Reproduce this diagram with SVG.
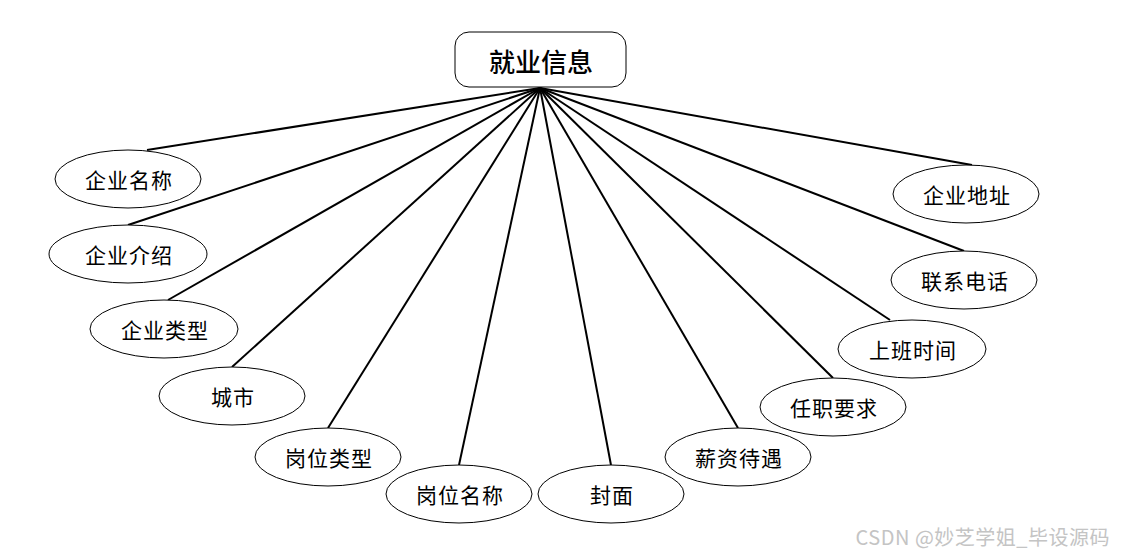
<svg xmlns="http://www.w3.org/2000/svg" width="1121" height="555" viewBox="0 0 1121 555">
<style>
.e{fill:#fff;stroke:#000;stroke-width:1}
.t{font-family:"Noto Sans CJK SC",sans-serif;font-size:21px;letter-spacing:1px;fill:#000;text-anchor:middle;dominant-baseline:central}
.c line{stroke:#000;stroke-width:2}
</style>
<rect width="1121" height="555" fill="#fff"/>
<g class="c" id="connectors">
<line x1="540" y1="88" x2="147" y2="150"/>
<line x1="540" y1="88" x2="128" y2="225"/>
<line x1="540" y1="88" x2="168" y2="300"/>
<line x1="540" y1="88" x2="232" y2="367"/>
<line x1="540" y1="88" x2="328" y2="428"/>
<line x1="540" y1="88" x2="459" y2="465"/>
<line x1="540" y1="88" x2="611" y2="465"/>
<line x1="540" y1="88" x2="738" y2="428"/>
<line x1="540" y1="88" x2="833" y2="378"/>
<line x1="540" y1="88" x2="890" y2="320"/>
<line x1="540" y1="88" x2="964" y2="251"/>
<line x1="540" y1="88" x2="972" y2="165"/>
</g>
<g id="n0"><rect x="455" y="32" width="171" height="55" rx="14" fill="#fff" stroke="#000"/><text class="t" x="541" y="60" style="font-size:26px;letter-spacing:0;font-weight:500">就业信息</text></g>
<g id="n1"><ellipse class="e" cx="128" cy="179" rx="73" ry="29"/><text class="t" x="129" y="179">企业名称</text></g>
<g id="n2"><ellipse class="e" cx="128" cy="254" rx="79" ry="29"/><text class="t" x="129" y="254">企业介绍</text></g>
<g id="n3"><ellipse class="e" cx="164" cy="329" rx="74" ry="29"/><text class="t" x="165" y="329">企业类型</text></g>
<g id="n4"><ellipse class="e" cx="232" cy="396" rx="73" ry="29"/><text class="t" x="233" y="396">城市</text></g>
<g id="n5"><ellipse class="e" cx="328" cy="457" rx="73" ry="29"/><text class="t" x="329" y="457">岗位类型</text></g>
<g id="n6"><ellipse class="e" cx="459" cy="494" rx="73" ry="29"/><text class="t" x="460" y="494">岗位名称</text></g>
<g id="n7"><ellipse class="e" cx="611" cy="494" rx="73" ry="29"/><text class="t" x="612" y="494">封面</text></g>
<g id="n8"><ellipse class="e" cx="738" cy="457" rx="73" ry="29"/><text class="t" x="739" y="457">薪资待遇</text></g>
<g id="n9"><ellipse class="e" cx="833" cy="407" rx="73" ry="29"/><text class="t" x="834" y="407">任职要求</text></g>
<g id="n10"><ellipse class="e" cx="912" cy="349" rx="74" ry="29"/><text class="t" x="913" y="349">上班时间</text></g>
<g id="n11"><ellipse class="e" cx="964" cy="280" rx="73" ry="29"/><text class="t" x="965" y="280">联系电话</text></g>
<g id="n12"><ellipse class="e" cx="966" cy="194" rx="73" ry="29"/><text class="t" x="967" y="194">企业地址</text></g>
<text x="1110" y="545" font-family="'Noto Sans CJK SC',sans-serif" font-size="20" letter-spacing="0.5" fill="#c4c4c4" text-anchor="end">CSDN @妙芝学姐_毕设源码</text>
</svg>
